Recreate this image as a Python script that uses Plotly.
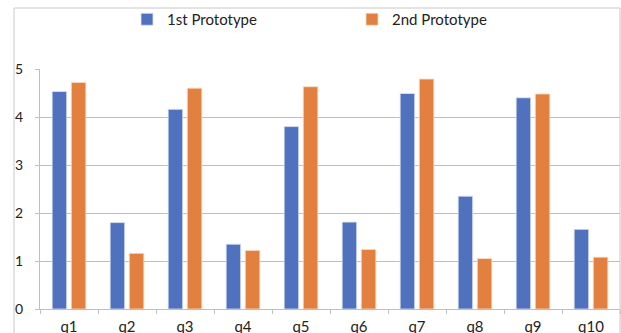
import plotly.graph_objects as go

categories = ["q1", "q2", "q3", "q4", "q5", "q6", "q7", "q8", "q9", "q10"]
first_proto = [4.53, 1.80, 4.16, 1.35, 3.80, 1.81, 4.49, 2.35, 4.40, 1.66]
second_proto = [4.72, 1.16, 4.60, 1.22, 4.63, 1.24, 4.79, 1.05, 4.48, 1.08]
y_ticks = [0, 1, 2, 3, 4, 5]

FONT = "Lato, 'Open Sans', sans-serif"
GRID = "#BFBFBF"

fig = go.Figure()
fig.add_trace(go.Bar(x=categories, y=first_proto, name="1st Prototype",
                     marker=dict(color="#4F71BE", line=dict(color="#DDE5F5", width=0.8))))
fig.add_trace(go.Bar(x=categories, y=second_proto, name="2nd Prototype",
                     marker=dict(color="#E1803F", line=dict(color="#F8DCC8", width=0.8))))

fig.update_layout(
    width=621, height=333,
    margin=dict(l=40, r=1, t=69, b=24),
    paper_bgcolor="white", plot_bgcolor="white",
    barmode="group", bargap=0.34, bargroupgap=0.24,
    font=dict(family=FONT, size=14, color="#222222"),
    showlegend=True,
    legend=dict(orientation="h", x=0.150, xanchor="left", y=1.275, yanchor="top",
                font=dict(size=15), entrywidth=180, entrywidthmode="pixels",
                bgcolor="rgba(0,0,0,0)"),
    xaxis=dict(showgrid=False, showline=True, linecolor=GRID, linewidth=1,
               ticks="outside", tickson="boundaries", ticklen=4, tickcolor=GRID,
               ticklabelstandoff=4, tickfont=dict(size=15), fixedrange=True,
               automargin=False),
    yaxis=dict(range=[0, 5], tickvals=y_ticks, showgrid=True, gridcolor=GRID, gridwidth=1,
               showline=True, linecolor=GRID, linewidth=1, zeroline=False,
               ticks="outside", ticklen=4, tickcolor=GRID, ticklabelstandoff=9,
               tickfont=dict(size=14), fixedrange=True, automargin=False),
    shapes=[dict(type="rect", xref="paper", yref="paper",
                 x0=(14 - 40) / 580, x1=1.0, y0=-0.2, y1=(309 - 8) / 240,
                 line=dict(color="#C8C8C8", width=1), fillcolor="rgba(0,0,0,0)", layer="below")],
)

fig.write_html("out.html", config={"displayModeBar": False},
               post_script="document.body.style.margin='0';document.body.style.overflow='hidden';")
